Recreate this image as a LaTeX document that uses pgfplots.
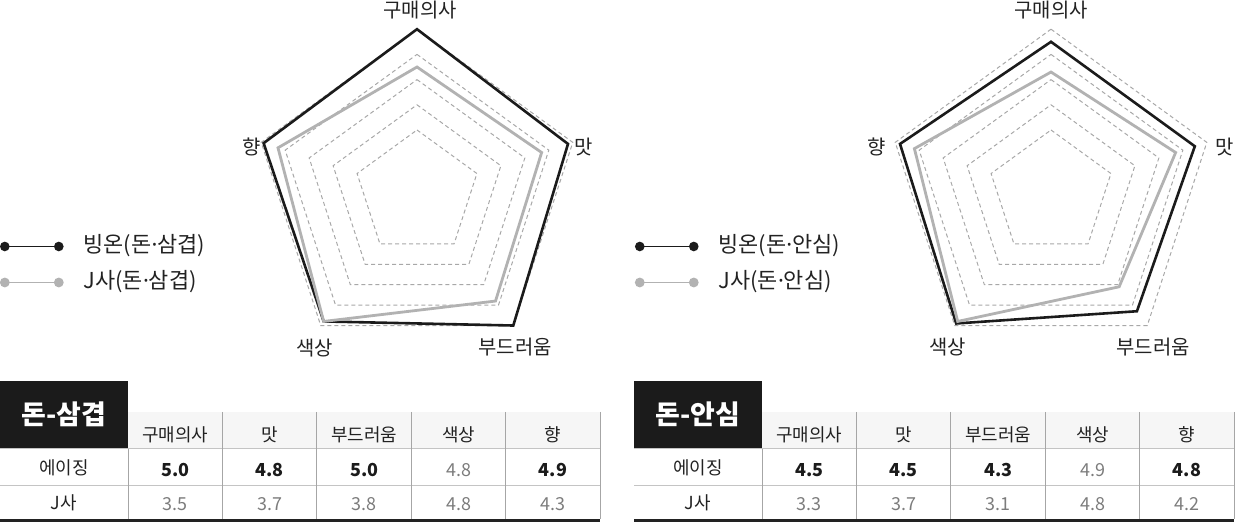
\documentclass[border=0pt]{standalone}
\usepackage{fontspec}
\setmainfont{Noto Sans CJK KR}
\newfontfamily\latinfont{Noto Sans}
\usepackage{pgfplots}
\usepackage{pgfplotstable}
\pgfplotsset{compat=1.18}

\definecolor{ink}{HTML}{1B1B1B}
\definecolor{jgray}{HTML}{B2B2B2}
\definecolor{ringc}{HTML}{A8A8A8}
\definecolor{txt}{HTML}{222222}
\definecolor{soft}{HTML}{7C7C7C}
\definecolor{rulec}{HTML}{C4C4C4}
\definecolor{vrule}{HTML}{A6A6A6}
\definecolor{headbg}{HTML}{F6F6F6}

% spoke angle, then the two scores
\pgfplotstableread{
ang  bingon  jsa
90   5.0     3.5
18   4.8     3.7
-54  5.0     3.8
-126 4.8     4.8
162  4.9     4.3
}\samgyeop

\pgfplotstableread{
ang  bingon  jsa
90   4.5     3.3
18   4.5     3.7
-54  4.3     3.1
-126 4.9     4.8
162  4.8     4.2
}\ansim

\pgfplotstableread{
ang  l1 l2 l3 l4 l5
90   1  2  3  4  5
18   1  2  3  4  5
-54  1  2  3  4  5
-126 1  2  3  4  5
162  1  2  3  4  5
}\rings

\def\rzero{1.5} % the centre of the web is at -1.5
\newcommand\md{{\latinfont ·}}

\pgfplotsset{
  radar/.style={
    x=25.2bp, y=25.2bp,
    xmin=-8, xmax=8, ymin=-8, ymax=8,
    hide axis, clip=false, anchor=center,
    data cs=polar,
    legend cell align=left,
    legend style={
      at={(#1,0.3227)}, anchor=west,
      draw=none, fill=none, inner sep=0pt, row sep=16bp,
      font=\fontsize{22}{26}\selectfont, text=txt,
      nodes={inner sep=0pt, text height=16bp, text depth=4bp},
      /tikz/every odd column/.append style={column sep=20bp},
    },
    legend image code/.code={
      \draw[##1, line width=1.8bp] (0bp,0bp) -- (54bp,0bp);
      \fill[##1] (0bp,0bp) circle (3.4bp) (54bp,0bp) circle (3.4bp);
    },
  },
  ring/.style={ringc, line width=1bp, dash pattern=on 4bp off 3bp, forget plot},
  score/.style={line width=#1, line join=miter},
}
\tikzset{lab/.style={font=\fontsize{20}{24}\selectfont, text=txt}}

\newcommand\hi{\fontsize{18}{20}\selectfont\bfseries\color{ink}}
\newcommand\lo{\fontsize{18}{20}\selectfont\color{soft}}
\newcommand\hd{\fontsize{18}{20}\selectfont\color{txt}}

% frame and headers of one score table, #1 x offset, #2 title
\newcommand\tableframe[2]{%
  \begin{scope}[xshift=#1bp]
    \fill[headbg] (128,-412) rectangle (600,-448);
    \fill[ink] (0,-381) rectangle (128,-448);
    \node[text=white, font=\fontsize{27}{30}\selectfont\bfseries] at (64,-414) {#2};
    \draw[rulec, line width=1bp] (0,-448.5) -- (600,-448.5) (0,-485) -- (600,-485);
    \draw[vrule, line width=1bp] (128,-449) -- (128,-519);
    \foreach \x in {222.7,316.7,411.7,505.7,600}
      \draw[vrule, line width=1bp] (\x,-412) -- (\x,-519);
    \draw[txt, line width=2.6bp] (0,-520.5) -- (600,-520.5);
    \foreach \cx/\tx in {175.4/구매의사,269.7/맛,364.2/부드러움,458.7/색상,552.9/향}
      \node[anchor=base, inner sep=0pt] at (\cx,-441) {\hd\tx};
    \node[anchor=base, inner sep=0pt] at (64,-474.5) {\hd 에이징};
    \node[anchor=base, inner sep=0pt] at (64,-509.5) {\hd J사};
  \end{scope}}

\begin{document}
\begin{tikzpicture}[x=1bp,y=1bp]

\begin{axis}[radar=-0.5347, at={(417bp,-193bp)}]
  \pgfplotsinvokeforeach{l1,l2,l3,l4,l5}{
    \addplot[ring] table[x=ang, y expr=\thisrow{#1}+\rzero] {\rings} -- cycle;
  }
  \addplot[score=2.6bp, ink] table[x=ang, y expr=\thisrow{bingon}+\rzero] {\samgyeop} -- cycle;
  \addlegendentry{빙온(돈\md 삼겹)}
  \addplot[score=2.8bp, jgray] table[x=ang, y expr=\thisrow{jsa}+\rzero] {\samgyeop} -- cycle;
  \addlegendentry{J사(돈\md 삼겹)}
  \node[lab] at (axis cs:0.12,7.26) {구매의사};
  \node[lab] at (axis cs:6.6,1.83) {맛};
  \node[lab] at (axis cs:3.89,-6.11) {부드러움};
  \node[lab] at (axis cs:-4.05,-6.15) {색상};
  \node[lab] at (axis cs:-6.55,1.83) {향};
\end{axis}

\begin{axis}[radar=-0.5323, at={(1051bp,-193bp)}]
  \pgfplotsinvokeforeach{l1,l2,l3,l4,l5}{
    \addplot[ring] table[x=ang, y expr=\thisrow{#1}+\rzero] {\rings} -- cycle;
  }
  \addplot[score=2.6bp, ink] table[x=ang, y expr=\thisrow{bingon}+\rzero] {\ansim} -- cycle;
  \addlegendentry{빙온(돈\md 안심)}
  \addplot[score=2.8bp, jgray] table[x=ang, y expr=\thisrow{jsa}+\rzero] {\ansim} -- cycle;
  \addlegendentry{J사(돈\md 안심)}
  \node[lab] at (axis cs:0,7.26) {구매의사};
  \node[lab] at (axis cs:6.9,1.83) {맛};
  \node[lab] at (axis cs:4.05,-6.11) {부드러움};
  \node[lab] at (axis cs:-4.11,-6.11) {색상};
  \node[lab] at (axis cs:-6.9,1.83) {향};
\end{axis}

\tableframe{0}{돈-삼겹}
\foreach \cx/\f/\tx in {175.4/\hi/5.0,269.7/\hi/4.8,364.2/\hi/5.0,458.7/\lo/4.8,552.9/\hi/4.9}
  \node[anchor=base, inner sep=0pt] at (\cx,-476.5) {\f\tx};
\foreach \cx/\tx in {175.4/3.5,269.7/3.7,364.2/3.8,458.7/4.8,552.9/4.3}
  \node[anchor=base, inner sep=0pt] at (\cx,-510.5) {\lo\tx};

\tableframe{634}{돈-안심}
\begin{scope}[xshift=634bp]
\foreach \cx/\f/\tx in {175.4/\hi/4.5,269.7/\hi/4.5,364.2/\hi/4.3,458.7/\lo/4.9,552.9/\hi/4.8}
  \node[anchor=base, inner sep=0pt] at (\cx,-476.5) {\f\tx};
\foreach \cx/\tx in {175.4/3.3,269.7/3.7,364.2/3.1,458.7/4.8,552.9/4.2}
  \node[anchor=base, inner sep=0pt] at (\cx,-510.5) {\lo\tx};
\end{scope}

\pgfresetboundingbox
\useasboundingbox (0,0) rectangle (1236,-523);
\end{tikzpicture}
\end{document}
